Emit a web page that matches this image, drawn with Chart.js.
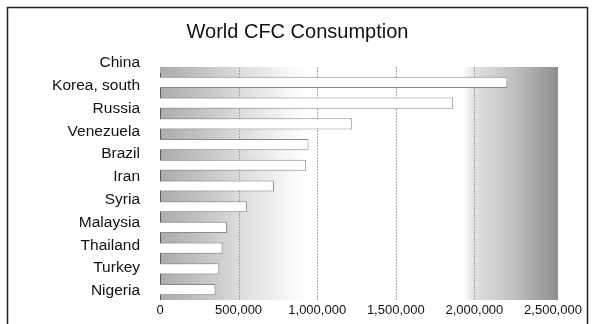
<!DOCTYPE html>
<html>
<head>
<meta charset="utf-8">
<script src="https://cdn.jsdelivr.net/npm/chart.js@4/dist/chart.umd.min.js"></script>
<style>
  html, body { margin: 0; padding: 0; background: #fff; }
  #wrap { width: 595px; height: 324px; position: relative; }
</style>
</head>
<body>
<div id="wrap"><canvas id="c" width="595" height="324"></canvas></div>
<script>
// Data
const countries = ['China', 'Korea, south', 'Russia', 'Venezuela', 'Brazil', 'Iran',
                   'Syria', 'Malaysia', 'Thailand', 'Turkey', 'Nigeria'];
const consumption = [2210000, 1865000, 1220000, 945000, 930000, 725000,
                     553000, 426000, 398000, 377000, 353000];
const axisTicks = [0, 500000, 1000000, 1500000, 2000000, 2500000];
const axisTickLabels = ['0', '500,000', '1,000,000', '1,500,000', '2,000,000', '2,500,000'];
const chartTitle = 'World CFC Consumption';

Chart.defaults.font.family = "'Liberation Sans', Arial, Helvetica, sans-serif";

// Frame, shaded plot panel, vertical grid and left axis line
const panel = {
  id: 'panel',
  beforeDraw(chart) {
    const ctx = chart.ctx;
    const a = chart.chartArea;
    const xs = chart.scales.x;
    const top = a.top - 5;
    const right = a.right + 5;

    ctx.save();
    // outer frame
    ctx.strokeStyle = '#222';
    ctx.lineWidth = 1.5;
    ctx.strokeRect(7.5, 7.5, 580, 340);

    // shaded panel: grey at both sides, white in the middle
    const g = ctx.createLinearGradient(a.left, 0, right, 0);
    g.addColorStop(0.00, '#acacac');
    g.addColorStop(0.10, '#c2c2c2');
    g.addColorStop(0.22, '#e0e0e0');
    g.addColorStop(0.33, '#f8f8f8');
    g.addColorStop(0.37, '#ffffff');
    g.addColorStop(0.76, '#ffffff');
    g.addColorStop(0.79, '#e0e0e0');
    g.addColorStop(0.88, '#c4c4c4');
    g.addColorStop(1.00, '#8e8e8e');
    ctx.fillStyle = g;
    ctx.fillRect(a.left, top, right - a.left, a.bottom - top);

    // vertical grid lines
    ctx.strokeStyle = '#a4a4a4';
    ctx.lineWidth = 1;
    ctx.setLineDash([2, 1]);
    axisTicks.slice(1, -1).forEach(v => {
      const px = Math.round(xs.getPixelForValue(v)) + 0.5;
      ctx.beginPath();
      ctx.moveTo(px, top);
      ctx.lineTo(px, a.bottom);
      ctx.stroke();
    });
    ctx.setLineDash([]);

    // left axis line
    ctx.strokeStyle = '#555';
    ctx.beginPath();
    ctx.moveTo(Math.round(a.left) + 0.5, top + 6);
    ctx.lineTo(Math.round(a.left) + 0.5, a.bottom);
    ctx.stroke();
    ctx.restore();
  }
};

new Chart(document.getElementById('c'), {
  type: 'bar',
  data: {
    labels: countries,
    datasets: [{
      data: consumption,
      backgroundColor: '#ffffff',
      borderColor: '#8a8a8a',
      borderWidth: 1,
      barPercentage: 0.54,
      categoryPercentage: 1.0
    }]
  },
  options: {
    indexAxis: 'y',
    responsive: false,
    animation: false,
    devicePixelRatio: 1,
    layout: { padding: { left: 10, right: 10, top: 8, bottom: 0 } },
    plugins: {
      legend: { display: false },
      tooltip: { enabled: false },
      title: {
        display: true,
        text: chartTitle,
        color: '#111',
        font: { size: 20, weight: 'normal' },
        padding: { top: 12, bottom: 28 }
      }
    },
    scales: {
      x: {
        type: 'linear',
        position: 'bottom',
        min: 0,
        max: 2500000,
        grid: { display: false, drawTicks: false },
        border: { display: false },
        afterBuildTicks: s => { s.ticks = axisTicks.map(v => ({ value: v })); },
        afterFit: s => { s.height = 24; s.paddingRight = 42; },
        ticks: {
          autoSkip: false,
          maxRotation: 0,
          padding: 3,
          color: '#111',
          font: { size: 13 },
          callback: v => {
            const i = axisTicks.indexOf(v);
            return i >= 0 ? axisTickLabels[i] : '';
          }
        }
      },
      y: {
        display: false,
        offset: true
      },
      yLabels: {
        type: 'category',
        position: 'left',
        offset: false,
        grid: { display: false, drawTicks: false },
        border: { display: false },
        afterFit: s => { s.width = 150; s.paddingTop = 0; s.paddingBottom = 0; },
        ticks: {
          autoSkip: false,
          padding: 20,
          labelOffset: -9,
          color: '#111',
          font: { size: 15.5 }
        }
      }
    }
  },
  plugins: [panel]
});
</script>
</body>
</html>
